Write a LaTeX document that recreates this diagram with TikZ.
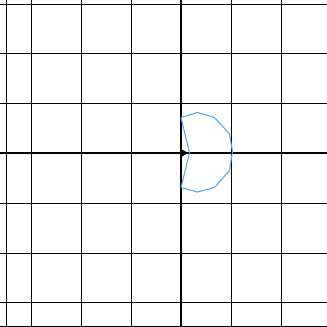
\documentclass[tikz,border=0pt]{standalone}
\usetikzlibrary{arrows.meta}
\definecolor{curveblue}{RGB}{77,166,255}
\tikzset{
  gridline/.style={black, line width=0.5pt},
  axisline/.style={black, line width=0.8pt},
  curve/.style={curveblue, line width=0.6pt, line join=round},
}
\begin{document}
\begin{tikzpicture}[x=1cm,y=1cm]
\useasboundingbox (-3.62,-3.48) rectangle (2.92,3.06);
% vertical grid lines
\foreach \x in {-3.5,-3,-2,-1,1,2} \draw[gridline] (\x,-3.6) -- (\x,3.2);
% horizontal grid lines
\foreach \y in {2.98,2,1,-1,-2,-2.98,-3.46} \draw[gridline] (-3.7,\y) -- (3.0,\y);
% axes
\draw[axisline] (0,-3.6) -- (0,3.2);
\draw[axisline] (-3.7,0) -- (3.0,0);
% curve
\draw[curve] (0,0.71) -- (0.33,0.81) -- (0.67,0.71) -- (0.97,0.38) -- (1.03,0.03)
  -- (0.97,-0.35) -- (0.67,-0.69) -- (0.33,-0.78) -- (0,-0.69) -- (0.17,0) -- cycle;
% small vector
\coordinate (o) at (0,0);
\coordinate (v) at (0.14,0);
\fill[black] (v) -- ++(-0.12,0.07) -- ++(0,-0.14) -- cycle;
\end{tikzpicture}
\end{document}
